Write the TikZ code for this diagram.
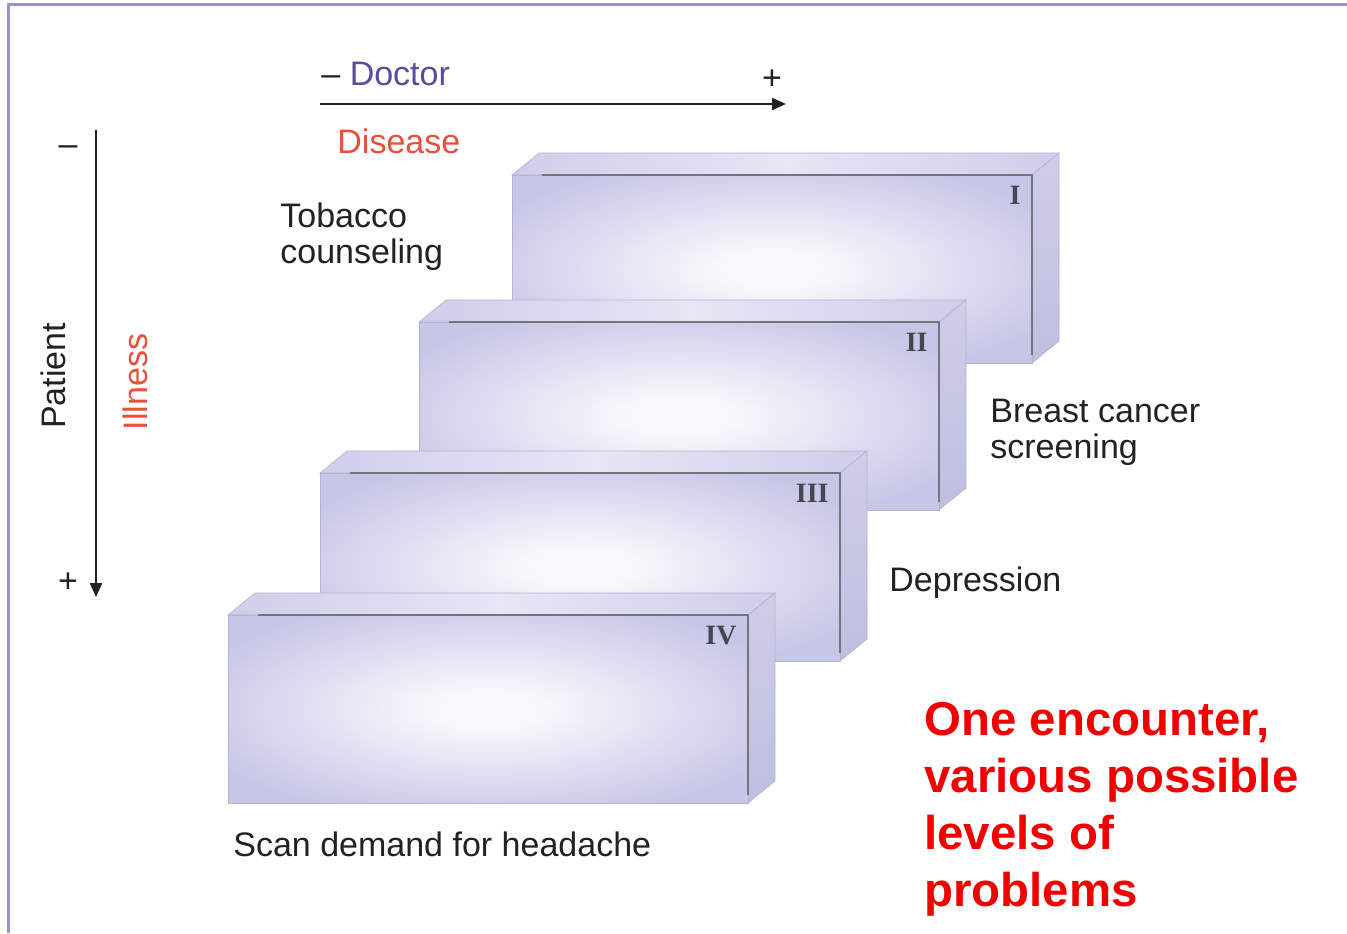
\documentclass[tikz,border=0pt]{standalone}
\usepackage{fontspec}
\setmainfont{Liberation Sans}
\newfontfamily\romanfont{Liberation Serif}
\usetikzlibrary{arrows.meta}
\definecolor{lavout}{RGB}{198,198,231}
\definecolor{lavin}{RGB}{250,250,253}
\definecolor{lavtop}{RGB}{206,206,234}
\definecolor{lavtopmid}{RGB}{230,230,245}
\definecolor{lavside}{RGB}{190,190,224}
\definecolor{lavsidetop}{RGB}{206,206,234}
\definecolor{lavedge}{RGB}{178,178,212}
\definecolor{framecol}{RGB}{150,150,205}
\definecolor{labelgray}{RGB}{34,34,34}
\definecolor{docpurple}{RGB}{88,76,156}
\definecolor{disred}{RGB}{232,80,60}
\definecolor{alertred}{RGB}{240,0,0}
\definecolor{numgray}{RGB}{70,70,80}
\pgfdeclareradialshading{boxglow}{\pgfpoint{0bp}{0bp}}{color(0bp)=(lavin); color(4bp)=(lavin); color(30bp)=(lavout); color(50bp)=(lavout)}
\newcommand\stagebox[4]{%
  \path[left color=lavtop, right color=lavtop, middle color=lavtopmid, draw=lavedge, line width=0.3pt]
    (#2,#3) -- ++(27,-22) -- ++(520,0) -- ++(-27,22) -- cycle;
  \path[top color=lavsidetop, bottom color=lavside, draw=lavedge, line width=0.3pt]
    ({#2+520},#3) -- ++(27,-22) -- ++(0,188) -- ++(-27,22) -- cycle;
  \path[shading=boxglow, draw=lavedge, line width=0.3pt] (#2,#3) rectangle ++(520,188);
  \draw[numgray!75, line width=0.8pt] ({#2+30},#3) -- ({#2+520},#3) -- ({#2+520},{#3+180});
  \node[anchor=north east, inner sep=0pt, font=\romanfont\bfseries\fontsize{14}{14}\selectfont, text=numgray] (#1) at ({#2+509},{#3+11}) {#4};
}
\tikzset{
  lbl/.style={inner sep=0pt, text=labelgray, font=\fontsize{17}{20}\selectfont},
  alert/.style={inner sep=0pt, anchor=base west, text=alertred, font=\bfseries\fontsize{23.7}{28}\selectfont},
  axis/.style={labelgray, line width=1.1pt, -{Triangle[length=7pt, width=6pt]}}
}
\begin{document}
\begin{tikzpicture}[x=0.5pt, y=-0.5pt]
\useasboundingbox (0,0) rectangle (1347,933);
\fill[white] (0,0) rectangle (1347,933);
\draw[framecol, line width=1.5pt] (8,933) -- (8,4) -- (1347,4);

% boxes, back to front
\stagebox{nI}{512}{175}{I}
\stagebox{nII}{419}{322}{II}
\stagebox{nIII}{320}{473}{III}
\stagebox{nIV}{228}{615}{IV}

% axes
\coordinate (hs) at (320,104);
\coordinate (he) at (786,104);
\draw[axis] (hs) -- (he);
\coordinate (vs) at (96,130);
\coordinate (ve) at (96,597);
\draw[axis] (vs) -- (ve);

\node[lbl, anchor=base west] (doctor) at (321,85) {– \textcolor{docpurple}{Doctor}};
\node[lbl, anchor=base] (plusx) at (772,89) {+};
\node[lbl, anchor=base west, text=disred] (disease) at (337,153) {Disease};
\node[lbl, anchor=base] (minusy) at (68,155) {–};
\node[lbl, anchor=base] (plusy) at (68,592) {+};
\node[lbl, anchor=base, rotate=90] (patient) at (65,376) {Patient};
\node[lbl, anchor=base, rotate=90, text=disred] (illness) at (147,382) {Illness};

\node[lbl, anchor=base west] (tob1) at (280,227) {Tobacco};
\node[lbl, anchor=base west] (tob2) at (280,263) {counseling};
\node[lbl, anchor=base west] (bc1) at (990,422) {Breast cancer};
\node[lbl, anchor=base west] (bc2) at (990,458) {screening};
\node[lbl, anchor=base west] (dep) at (889,591) {Depression};
\node[lbl, anchor=base west] (scan) at (233,856) {Scan demand for headache};

\node[alert] (r1) at (924,735) {One encounter,};
\node[alert] (r2) at (924,792) {various possible};
\node[alert] (r3) at (924,849) {levels of};
\node[alert] (r4) at (924,906) {problems};
\end{tikzpicture}
\end{document}
